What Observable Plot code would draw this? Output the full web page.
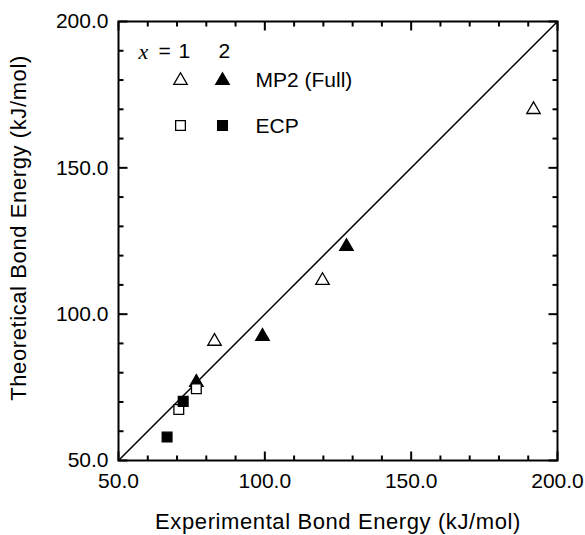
<!DOCTYPE html>
<html><head><meta charset="utf-8">
<script src="https://cdn.jsdelivr.net/npm/d3@7"></script>
<script src="https://cdn.jsdelivr.net/npm/@observablehq/plot@0.6"></script>
<style>
body{margin:0;background:#fff}
svg{font-family:"Liberation Sans",Arial,sans-serif}
.wide text{letter-spacing:0.6px}
</style>
</head><body><div id="chart"></div>
<script>
// MP2 (Full), x = 1 (open triangles)
const mp2X1Exp = [82.8, 119.7, 191.8];
const mp2X1Theo = [90.7, 111.5, 169.9];
// MP2 (Full), x = 2 (filled triangles)
const mp2X2Exp = [76.6, 99.2, 127.9];
const mp2X2Theo = [76.7, 92.4, 123.1];
// ECP, x = 1 (open squares)
const ecpX1Exp = [70.6, 76.6];
const ecpX1Theo = [67.4, 74.5];
// ECP, x = 2 (filled squares)
const ecpX2Exp = [72.1, 66.6];
const ecpX2Theo = [70.2, 58.0];

const majorTicks = [50, 100, 150, 200];
const minorTicks = [60, 70, 80, 90, 110, 120, 130, 140, 160, 170, 180, 190];
const parityLine = [50, 200];
const xTitle = "Experimental Bond Energy (kJ/mol)";
const yTitle = "Theoretical Bond Energy (kJ/mol)";
const fmt = d => d.toFixed(1);

const W = 585, H = 535, ML = 118, MR = 28, MT = 21, MB = 75;
const pts = (xs, ys) => xs.map((x, i) => ({x, y: ys[i]}));

// inward tick marks drawn as custom dot symbols anchored on the frame edges
const tickSym = (len, ux, uy) => ({draw(ctx) { ctx.moveTo(0, 0); ctx.lineTo(ux * len, uy * len); }});
const tickMarks = [];
for (const [ticks, len] of [[majorTicks, 9], [minorTicks, 5]]) {
  const o = {r: 3, fill: "none", stroke: "#000", strokeWidth: 2};
  tickMarks.push(Plot.dot(ticks, {x: d => d, frameAnchor: "bottom", symbol: tickSym(len, 0, -1), ...o}));
  tickMarks.push(Plot.dot(ticks, {x: d => d, frameAnchor: "top", symbol: tickSym(len, 0, 1), ...o}));
  tickMarks.push(Plot.dot(ticks, {y: d => d, frameAnchor: "left", symbol: tickSym(len, 1, 0), ...o}));
  tickMarks.push(Plot.dot(ticks, {y: d => d, frameAnchor: "right", symbol: tickSym(len, -1, 0), ...o}));
}

const leg = (txt, dx, dy, extra = {}) =>
  Plot.text([txt], {frameAnchor: "top-left", dx, dy, text: d => d, lineAnchor: "middle", fontSize: 21, fill: "#000", ...extra});
const legDot = (symbol, fill, dx, dy, r) =>
  Plot.dot([0], {frameAnchor: "top-left", dx, dy, symbol, r, fill, stroke: "#000", strokeWidth: 1.3});

const chart = Plot.plot({
  width: W, height: H,
  marginLeft: ML, marginRight: MR, marginTop: MT, marginBottom: MB,
  x: {domain: [50, 200]},
  y: {domain: [50, 200]},
  marks: [
    Plot.axisX({ticks: majorTicks, tickSize: 0, tickPadding: 13, tickFormat: fmt, fontSize: 21, fill: "#000", label: null}),
    Plot.axisY({ticks: majorTicks, tickSize: 0, tickPadding: 10, tickFormat: fmt, fontSize: 21, fill: "#000", label: null}),
    Plot.text([xTitle], {frameAnchor: "bottom", dy: 61, text: d => d, lineAnchor: "middle", fontSize: 22, fill: "#000", className: "wide"}),
    Plot.text([yTitle], {frameAnchor: "left", dx: -100, dy: -13, rotate: -90, text: d => d, textAnchor: "middle", lineAnchor: "middle", fontSize: 22, fill: "#000", className: "wide"}),
    ...tickMarks,
    Plot.line(parityLine, {x: d => d, y: d => d, stroke: "#000", strokeWidth: 1.5}),
    Plot.dot(pts(mp2X1Exp, mp2X1Theo), {x: "x", y: "y", symbol: "triangle", r: 5, fill: "#fff", stroke: "#000", strokeWidth: 1.3}),
    Plot.dot(pts(mp2X2Exp, mp2X2Theo), {x: "x", y: "y", symbol: "triangle", r: 5, fill: "#000", stroke: "#000", strokeWidth: 1.3}),
    Plot.dot(pts(ecpX1Exp, ecpX1Theo), {x: "x", y: "y", symbol: "square", r: 5.5, fill: "#fff", stroke: "#000", strokeWidth: 1.3}),
    Plot.dot(pts(ecpX2Exp, ecpX2Theo), {x: "x", y: "y", symbol: "square", r: 5.5, fill: "#000", stroke: "#000", strokeWidth: 1.3}),
    // legend
    leg("x", 20, 30, {fontStyle: "italic", fontFamily: "Liberation Serif", fontSize: 22}),
    leg("=", 40, 30),
    leg("1", 60, 30),
    leg("2", 100, 30),
    legDot("triangle", "#fff", 62, 59, 5),
    legDot("triangle", "#000", 104, 59, 5),
    leg("MP2 (Full)", 137, 59, {textAnchor: "start"}),
    legDot("square", "#fff", 62, 104, 5.5),
    legDot("square", "#000", 104, 104, 5.5),
    leg("ECP", 137, 105, {textAnchor: "start"}),
    Plot.frame({stroke: "#000", strokeWidth: 2})
  ]
});
document.getElementById("chart").append(chart);
</script>
</body></html>
